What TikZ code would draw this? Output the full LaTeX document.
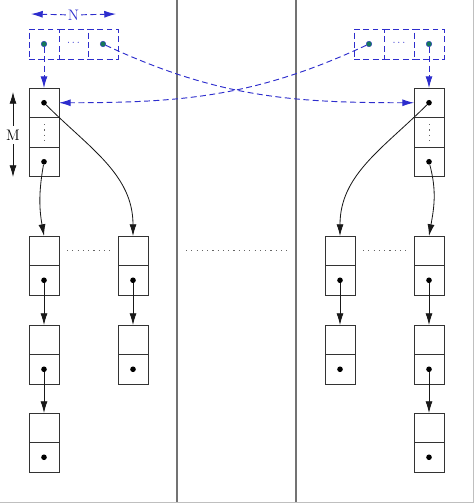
\documentclass[tikz,border=0pt]{standalone}
\usepackage{tikz}
\usetikzlibrary{arrows.meta}
\definecolor{ptrblue}{RGB}{45,45,205}
\definecolor{dotgreen}{RGB}{20,120,90}

\begin{document}
\begin{tikzpicture}[x=0.03cm,y=-0.03cm,
  cell/.style={draw=black!80,line width=0.8pt,minimum width=0.9cm,minimum height=0.885cm,inner sep=0pt,outer sep=0pt},
  slot/.style={draw=ptrblue,dash pattern=on 5pt off 3pt,line width=0.8pt,minimum size=0.9cm,inner sep=0pt,outer sep=0pt},
  ptr/.style={circle,fill=black,inner sep=0pt,minimum size=4.8pt},
  gptr/.style={circle,fill=dotgreen,draw=ptrblue,line width=0.3pt,inner sep=0pt,minimum size=4.8pt},
  link/.style={-{Latex[length=10pt,width=6pt]},line width=0.7pt,black!90},
  blink/.style={-{Latex[length=10pt,width=6pt]},ptrblue,line width=0.8pt,dash pattern=on 5pt off 3pt},
  bline/.style={ptrblue,line width=0.8pt,dash pattern=on 5pt off 3pt},
  gap/.style={black!60,line width=0.7pt,dash pattern=on 1pt off 3.5pt},
  wall/.style={black!55,line width=0.9pt}]
\useasboundingbox (0,0) rectangle (474,503);

% column walls
\draw[wall] (177,0) -- (177,503);
\draw[wall] (296,0) -- (296,503);
\draw[black!25] (473,0) -- (473,502) -- (0,502);

% pointer arrays
\node[slot] (la1) at (44,44) {};
\node[slot] (la2) at (103,44) {};
\draw[bline] (la1.north east) -- (la2.north west);
\draw[bline] (la1.south east) -- (la2.south west);
\node[ptrblue] (lad) at (73.5,43) {\small$\cdots$};
\node[gptr] (la1p) at (la1) {};
\node[gptr] (la2p) at (la2) {};

\node[slot] (ra1) at (369,44) {};
\node[slot] (ra2) at (429,44) {};
\draw[bline] (ra1.north east) -- (ra2.north west);
\draw[bline] (ra1.south east) -- (ra2.south west);
\node[ptrblue] (rad) at (399,43) {\small$\cdots$};
\node[gptr] (ra1p) at (ra1) {};
\node[gptr] (ra2p) at (ra2) {};

% N label
\node[ptrblue,fill=white,inner sep=1.5pt,font=\fontsize{13}{15}\selectfont] (nlab) at (73.5,15) {N};
\coordinate (nl) at (31,14);
\coordinate (nr) at (116,14);
\draw[blink] (nlab) -- (nl);
\draw[blink] (nlab) -- (nr);

% head columns
\node[cell] (lh1) at (44,102.75) {};
\node[cell] (lh2) at (44,132.25) {};
\node[cell] (lh3) at (44,161.75) {};
\node[ptr] (lh1p) at (lh1) {};
\node[ptr] (lh3p) at (lh3) {};
\draw[gap] ([yshift=-0.2cm]lh2.north) -- ([yshift=0.08cm]lh2.south);

\node[cell] (rh1) at (429,102.75) {};
\node[cell] (rh2) at (429,132.25) {};
\node[cell] (rh3) at (429,161.75) {};
\node[ptr] (rh1p) at (rh1) {};
\node[ptr] (rh3p) at (rh3) {};
\draw[gap] ([yshift=-0.2cm]rh2.north) -- ([yshift=0.08cm]rh2.south);

% M label
\node[font=\fontsize{13}{15}\selectfont] (mlab) at (13,135) {M};
\coordinate (mt) at (13,92);
\coordinate (mb) at (13,177);
\draw[link] (mlab) -- (mt);
\draw[link] (mlab) -- (mb);

% blue pointers
\draw[blink] (la1p) -- (lh1.north);
\draw[blink] (ra2p) -- (rh1.north);
\draw[blink] (la2p) to[out=-25,in=180] (rh1.west);
\draw[blink] (ra1p) to[out=-155,in=0] (lh1.east);

% left lists
\node[cell] (a1t) at (44,250.75) {};
\node[cell] (a1b) at (44,280.25) {};
\node[cell] (a2t) at (44,339.75) {};
\node[cell] (a2b) at (44,369.25) {};
\node[cell] (a3t) at (44,427.75) {};
\node[cell] (a3b) at (44,457.25) {};
\node[ptr] (a1p) at (a1b) {};
\node[ptr] (a2p) at (a2b) {};
\node[ptr] (a3p) at (a3b) {};

\node[cell] (b1t) at (133,250.75) {};
\node[cell] (b1b) at (133,280.25) {};
\node[cell] (b2t) at (133,339.75) {};
\node[cell] (b2b) at (133,369.25) {};
\node[ptr] (b1p) at (b1b) {};
\node[ptr] (b2p) at (b2b) {};

% right lists
\node[cell] (c1t) at (340,250.75) {};
\node[cell] (c1b) at (340,280.25) {};
\node[cell] (c2t) at (340,339.75) {};
\node[cell] (c2b) at (340,369.25) {};
\node[ptr] (c1p) at (c1b) {};
\node[ptr] (c2p) at (c2b) {};

\node[cell] (d1t) at (429,250.75) {};
\node[cell] (d1b) at (429,280.25) {};
\node[cell] (d2t) at (429,339.75) {};
\node[cell] (d2b) at (429,369.25) {};
\node[cell] (d3t) at (429,427.75) {};
\node[cell] (d3b) at (429,457.25) {};
\node[ptr] (d1p) at (d1b) {};
\node[ptr] (d2p) at (d2b) {};
\node[ptr] (d3p) at (d3b) {};

% heads to lists
\draw[link] (lh1p) to[out=-45,in=90] (b1t.north);
\draw[link] (lh3p) to[out=-100,in=100] (a1t.north);
\draw[link] (rh1p) to[out=-135,in=90] (c1t.north);
\draw[link] (rh3p) to[out=-75,in=80] (d1t.north);

% list links
\draw[link] (a1p) -- (a2t.north);
\draw[link] (a2p) -- (a3t.north);
\draw[link] (b1p) -- (b2t.north);
\draw[link] (c1p) -- (c2t.north);
\draw[link] (d1p) -- (d2t.north);
\draw[link] (d2p) -- (d3t.north);

% gaps
\draw[gap] ([xshift=0.24cm]a1t.east) -- ([xshift=-0.21cm]b1t.west);
\draw[gap] ([xshift=1.14cm]b1t.east) -- ([xshift=-1.05cm]c1t.west);
\draw[gap] ([xshift=0.24cm]c1t.east) -- ([xshift=-0.18cm]d1t.west);

\end{tikzpicture}
\end{document}
